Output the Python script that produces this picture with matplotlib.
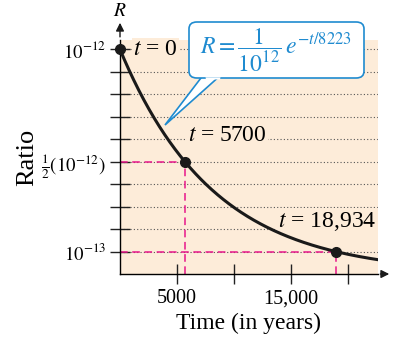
import numpy as np
import matplotlib.pyplot as plt
from matplotlib.patches import FancyBboxPatch, Polygon

plt.rcParams['font.family'] = ['Liberation Serif', 'DejaVu Serif']
plt.rcParams['mathtext.fontset'] = 'stix'

# data
half_life = 8223
t_points = [0, 5700, 18934]
r_points = [1e-12, 0.5e-12, 1e-13]
point_labels = ['$t$ = 0', '$t$ = 5700', '$t$ = 18,934']
xtick_vals = [5000, 10000, 15000, 20000]
xtick_labels = ['5000', '', '15,000', '']
ytick_vals = [0.1e-12 * k for k in range(1, 11)]
ytick_labels = {1: '$10^{-13}$', 5: r'$\frac{1}{2}(10^{-12})$', 10: '$10^{-12}$'}

peach = '#fdecd9'
pink = '#e8168a'
blue = '#1f8bd0'

W, H = 393, 341
fig = plt.figure(figsize=(W / 100, H / 100), dpi=100)
x0, x1, y0, y1 = 120, 378, 274, 40
ax = fig.add_axes([x0 / W, 1 - y0 / H, (x1 - x0) / W, (y0 - y1) / H])
ax.set_xlim(0, 22640)
ax.set_ylim(0, 1.042e-12)
ax.set_facecolor(peach)
for s in ['top', 'right']:
    ax.spines[s].set_visible(False)
for s in ['left', 'bottom']:
    ax.spines[s].set_linewidth(1.0)

# dotted grid lines
for y in ytick_vals:
    ax.axhline(y, color='#555555', lw=0.8, ls=(0, (1, 2)), zorder=1)

# pink guides
for t, r in zip(t_points[1:], r_points[1:]):
    ax.plot([0, t], [r, r], color=pink, lw=1.1, ls=(0, (5, 3)), zorder=2)
    ax.plot([t, t], [0, r], color=pink, lw=1.1, ls=(0, (5, 3)), zorder=2, clip_on=False)

# curve
t = np.linspace(0, 22640, 400)
ax.plot(t, 1e-12 * np.exp(-t / half_life), color='#1a1a1a', lw=2.2, zorder=3)
ax.plot(t_points, r_points, 'o', color='#1a1a1a', ms=7, zorder=4, clip_on=False)

# ticks
ax.set_xticks(xtick_vals)
ax.set_xticklabels(xtick_labels, fontsize=14.5)
ax.set_yticks(ytick_vals)
ax.set_yticklabels([ytick_labels.get(k, '') for k in range(1, 11)], fontsize=13.5)
ax.tick_params(axis='both', direction='inout', length=14, width=1.0, color='#222222')
ax.tick_params(axis='x', pad=4)
ax.tick_params(axis='y', pad=3)

ax.set_xlabel('Time (in years)', fontsize=17, labelpad=3)
ax.set_ylabel('Ratio', fontsize=19, labelpad=2)

# axis arrows
ax.annotate('', xy=(392 / W, 1 - y0 / H), xytext=(x1 / W - 0.001, 1 - y0 / H),
            xycoords='figure fraction',
            arrowprops=dict(arrowstyle='-|>', color='#1a1a1a', lw=1.0, mutation_scale=12))
ax.annotate('', xy=(x0 / W, 1 - 20 / H), xytext=(x0 / W, 1 - y1 / H + 0.001),
            xycoords='figure fraction',
            arrowprops=dict(arrowstyle='-|>', color='#1a1a1a', lw=1.0, mutation_scale=12))
fig.text(x0 / W, 1 - 12 / H, '$R$', ha='center', va='center', fontsize=14)

# point labels (peach box hides the grid behind the text, not the curve)
lbl_box = dict(facecolor=peach, edgecolor='none', pad=1)
ax.text(1150, 1e-12, point_labels[0], fontsize=17, va='center', ha='left', zorder=2.5,
        bbox=lbl_box)
ax.text(6000, 0.615e-12, point_labels[1], fontsize=17, va='center', ha='left', zorder=2.5,
        bbox=lbl_box)
ax.text(13850, 0.235e-12, point_labels[2], fontsize=17, va='center', ha='left', zorder=2.5,
        bbox=lbl_box)

# callout
tail = Polygon([(204 / W, 1 - 74 / H), (165 / W, 1 - 125 / H), (222 / W, 1 - 74 / H)],
               closed=True, transform=fig.transFigure, facecolor='white',
               edgecolor=blue, lw=1.2, zorder=9)
fig.add_artist(tail)
box = FancyBboxPatch((189 / W, 1 - 78 / H), (364 - 189) / W, (78 - 22) / H,
                     boxstyle='round,pad=0,rounding_size=0.02',
                     transform=fig.transFigure, facecolor='white',
                     edgecolor=blue, lw=1.2, zorder=10)
fig.add_artist(box)
fig.add_artist(Polygon([(205.5 / W, 1 - 77.3 / H), (220.5 / W, 1 - 77.3 / H),
                        (220 / W, 1 - 79.5 / H), (206 / W, 1 - 79.5 / H)],
                       transform=fig.transFigure, facecolor='white', edgecolor='none',
                       zorder=11))
fig.text(276 / W, 1 - 50 / H, r'$R = \dfrac{1}{10^{12}}\,e^{-t/8223}$', color=blue,
         fontsize=17, ha='center', va='center', zorder=13)

fig.savefig('out.png', dpi=100)
